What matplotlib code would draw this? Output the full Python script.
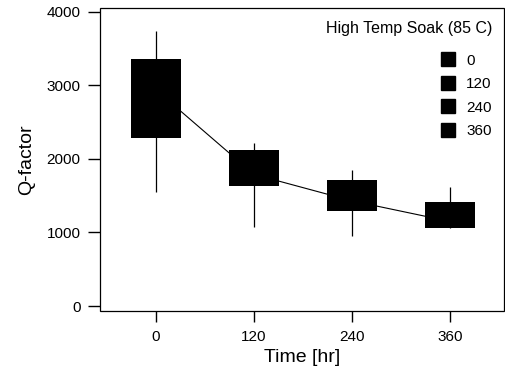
import matplotlib
matplotlib.use("Agg")
import matplotlib.pyplot as plt
from matplotlib.lines import Line2D
from matplotlib.patches import Rectangle

# soak time groups and box statistics
times = [0, 120, 240, 360]
q1 = [2290, 1635, 1295, 1065]
q3 = [3360, 2120, 1715, 1415]
whisker_lo = [1550, 1075, 950, 1065]
whisker_hi = [3740, 2220, 1850, 1620]
means = [2940, 1790, 1430, 1150]

plt.rcParams["font.family"] = ["Liberation Sans", "DejaVu Sans"]

fig = plt.figure(figsize=(5.05, 3.73), dpi=100)
W, H = 505, 373
ax = fig.add_axes([100 / W, (H - 311) / H, (504 - 100) / W, (311 - 8) / H])

# mean line behind the boxes
ax.plot(times, means, color="black", lw=0.8, zorder=1)
ax.vlines(times, whisker_lo, whisker_hi, color="black", lw=0.9, zorder=1)
heights = [b - a for a, b in zip(q1, q3)]
ax.bar(times, heights, bottom=q1, width=61, color="black", zorder=2)

ax.set_xlim(-68.6, 426)
ax.set_ylim(-68, 4054)
ax.set_xticks(times)
ax.set_xticklabels([str(t) for t in times])
ax.set_yticks([0, 1000, 2000, 3000, 4000])

for s in ax.spines.values():
    s.set_visible(False)
ax.add_patch(Rectangle((0, 0), 1, 1, transform=ax.transAxes, fill=False,
                       edgecolor="black", lw=0.9, clip_on=False))

ax.tick_params(axis="both", direction="out", length=8, width=1.0,
               labelsize=11, pad=6)
ax.tick_params(axis="y", length=9, pad=5)

ax.set_xlabel("Time [hr]", fontsize=14, labelpad=3)
ax.set_ylabel("Q-factor", fontsize=14, labelpad=8)

# legend title as separate text, entries below it
ax.text(0.970, 0.931, "High Temp Soak (85 C)", transform=ax.transAxes,
        ha="right", va="center", fontsize=11.5)
handles = [Line2D([], [], marker="s", color="black", linestyle="none",
                  markersize=10) for _ in times]
ax.legend(handles, [str(t) for t in times], fontsize=11,
          frameon=False, loc="upper left", bbox_to_anchor=(0.842, 0.849),
          borderpad=0, borderaxespad=0, labelspacing=0.62,
          handletextpad=0.7, handlelength=1.0)

fig.savefig("out.png", dpi=100)
